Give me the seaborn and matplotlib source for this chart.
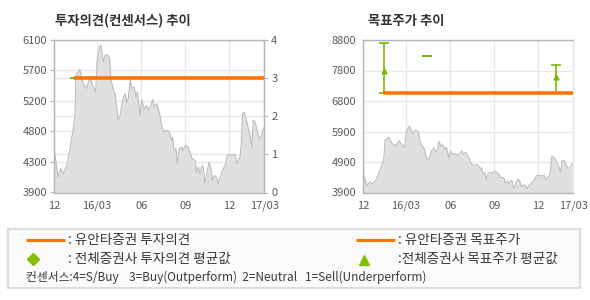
import numpy as np
import pandas as pd
import matplotlib
matplotlib.use("Agg")
import matplotlib.pyplot as plt
import seaborn as sns

# ---------------- data ----------------
start_date = "2015-12-03"
end_offset = 437  # days shown on x axis
# days since start_date, daily close price (KRW)
price_day = [0, 8, 13, 19, 26, 33, 38, 43, 45, 53, 60, 67, 74, 81, 86, 89, 94, 97,
             102, 106, 112, 115, 118, 123, 126, 128, 131, 133, 137, 142, 147, 151,
             154, 158, 161, 166, 170, 173, 178, 182, 187, 192, 196, 201, 205, 208,
             213, 219, 224, 228, 234, 239, 244, 246, 249, 253, 256, 260, 265, 268,
             273, 279, 282, 287, 293, 296, 300, 303, 307, 310, 313, 317, 322, 326,
             329, 333, 338, 341, 345, 350, 355, 360, 366, 371, 376, 380, 383, 387,
             389, 392, 395, 399, 404, 407, 411, 414, 418, 421, 425, 428, 432, 435, 437]
price = [4508, 4121, 4250, 4175, 4290, 4555, 4754, 5014, 5593, 5675, 5473, 5400,
         5568, 5424, 5351, 5786, 6003, 6027, 5786, 5882, 5882, 5834, 5520, 5376,
         5328, 5231, 5039, 4942, 5014, 5231, 5328, 5207, 5256, 5545, 5400, 5424,
         5280, 5351, 5014, 5231, 5111, 5159, 5087, 5159, 5241, 5134, 5183, 5039,
         4845, 4773, 4797, 4773, 4652, 4700, 4508, 4532, 4315, 4532, 4555, 4508,
         4580, 4555, 4483, 4387, 4363, 4194, 4266, 4170, 4290, 4266, 4026, 4170,
         4338, 4243, 4074, 4146, 4121, 4026, 4121, 4218, 4290, 4435, 4450, 4435,
         4450, 4315, 4363, 4435, 4605, 5039, 5062, 4966, 4822, 4725, 4555, 4942,
         4917, 4822, 4700, 4677, 4749, 4822, 4830]

# investment opinion (1-4 scale)
opinion_yuanta_start = 41
opinion_yuanta = 3
opinion_consensus_start = 34
opinion_consensus = 3

# target price
target_yuanta_start = 40
target_yuanta = 7100
cons_day = [44, 133, 400]
cons_avg = [7800, 8300, 7600]
cons_low = [7100, 8300, 7100]
cons_high = [8700, 8300, 8000]

left_ticklabels = ["3900", "4300", "4800", "5200", "5700", "6100"]
right_ticklabels = ["3900", "4900", "5900", "6800", "7800", "8800"]
opinion_ticks = [0, 1, 2, 3, 4]
xtick_dates = ["2016-03-01", "2016-06-01", "2016-09-01", "2016-12-01"]
xtick_labels = ["12", "16/03", "06", "09", "12", "17/03"]

title_left = "투자의견(컨센서스) 추이"
title_right = "목표주가 추이"
leg_texts = [": 유안타증권 투자의견", ": 전체증권사 투자의견 평균값",
             ": 유안타증권 목표주가", ":전체증권사 목표주가 평균값",
             "컨센서스:4=S/Buy    3=Buy(Outperform)  2=Neutral   1=Sell(Underperform)"]

# ---------------- style ----------------
sns.set_theme(style="white")
plt.rcParams["font.family"] = ["Noto Sans CJK KR", "DejaVu Sans"]

ORANGE = "#ff7400"
GREEN = "#78b800"
FILL = "#e0e0e0"
LINE = "#bdbdbd"
SPINE = "#b4b4b4"
GRID = "#e8e8e8"
TXT = "#5a5a5a"

t0 = pd.Timestamp(start_date)
df = pd.DataFrame({"date": t0 + pd.to_timedelta(price_day, unit="D"), "price": price})
x_end = t0 + pd.Timedelta(days=end_offset)
xticks = [t0] + [pd.Timestamp(d) for d in xtick_dates] + [x_end]

fig = plt.figure(figsize=(5.9, 3.0), dpi=100)
fig.patch.set_facecolor("white")

W = 210 / 590
H = 152.5 / 300
axL = fig.add_axes([54.3 / 590, 1 - 192.5 / 300, W, H])
axR = fig.add_axes([363.3 / 590, 1 - 192.5 / 300, W, H])


def style_price_axis(ax, ylim, labels, hgrid):
    ax.fill_between(df["date"], df["price"], ylim[0], color=FILL, lw=0, zorder=1)
    sns.lineplot(data=df, x="date", y="price", ax=ax, color=LINE, lw=0.8, zorder=2)
    ax.set_xlim(t0, x_end)
    ax.set_ylim(*ylim)
    ax.set_yticks(np.linspace(ylim[0], ylim[1], 6))
    ax.set_yticklabels(labels)
    ax.set_xticks(xticks)
    ax.set_xticklabels(xtick_labels)
    ax.set_xlabel("")
    ax.set_ylabel("")
    ax.tick_params(axis="both", labelsize=8, colors=TXT, length=3, width=0.8,
                   color=SPINE, pad=2)
    ax.tick_params(axis="x", pad=3)
    for s in ax.spines.values():
        s.set_color(SPINE)
        s.set_linewidth(1)
    ax.xaxis.grid(True, color=GRID, lw=1, zorder=0)
    ax.yaxis.grid(hgrid, color=GRID, lw=1, zorder=0)
    ax.set_axisbelow(True)


style_price_axis(axL, (3900, 6100), left_ticklabels, False)
style_price_axis(axR, (3900, 8800), right_ticklabels, True)
axR.spines["right"].set_color(GRID)

# left twin axis for opinion
axO = axL.twinx()
axO.set_ylim(0, 4)
axO.set_yticks(opinion_ticks)
axO.set_yticklabels([str(v) for v in opinion_ticks])
axO.tick_params(axis="y", labelsize=8, colors=TXT, length=3, width=0.8, color=SPINE, pad=2)
for s in axO.spines.values():
    s.set_visible(False)
axO.yaxis.grid(False)
for v in opinion_ticks[1:-1]:
    axL.axhline(3900 + v / 4 * 2200, color=GRID, lw=1, zorder=0)
axO.plot([t0 + pd.Timedelta(days=opinion_consensus_start), x_end],
         [opinion_consensus] * 2, color=GREEN, lw=1.5, zorder=3)
axO.plot([t0 + pd.Timedelta(days=opinion_yuanta_start), x_end],
         [opinion_yuanta] * 2, color=ORANGE, lw=2.6, zorder=4, solid_capstyle="butt")

# target price chart
cd = t0 + pd.to_timedelta(cons_day, unit="D")
avg = np.array(cons_avg)
lo = np.array(cons_low)
hi = np.array(cons_high)
axR.errorbar(cd, avg, yerr=[avg - lo, hi - avg], fmt="none", ecolor=GREEN,
             elinewidth=1.2, capsize=3.3, capthick=1.2, zorder=3)
has_range = hi > lo
axR.plot(cd[has_range], avg[has_range], ls="none", marker="^", ms=3.5,
         color=GREEN, zorder=3)
axR.plot([t0 + pd.Timedelta(days=target_yuanta_start), x_end], [target_yuanta] * 2,
         color=ORANGE, lw=2.6, zorder=4, solid_capstyle="butt")

# titles
fig.text(55 / 590, 1 - 20.5 / 300, title_left, fontsize=9.6, fontweight="bold",
         color="#333333", va="center", ha="left")
fig.text(367.5 / 590, 1 - 20.5 / 300, title_right, fontsize=9.6, fontweight="bold",
         color="#333333", va="center", ha="left")

# legend box (pixel coordinates)
lg = fig.add_axes([0, 0, 1, 1], zorder=-1)
lg.set_xlim(0, 590)
lg.set_ylim(300, 0)
lg.axis("off")
lg.add_patch(plt.Rectangle((7.5, 229), 572, 59, facecolor="#fafafa",
                           edgecolor="#dcdcdc", lw=1.5))
lg.plot([26, 65], [240, 240], color=ORANGE, lw=2.2, solid_capstyle="butt")
lg.plot([33], [258.5], marker="D", ms=6.5, color="#80c000", ls="none")
lg.plot([356, 395], [239.5, 239.5], color=ORANGE, lw=2.2, solid_capstyle="butt")
lg.plot([363.5], [259.5], marker="^", ms=7.5, color="#80c000", ls="none")
tk = dict(fontsize=9.8, color="#3a3a3a", va="center", ha="left")
lg.text(68, 240, leg_texts[0], **tk)
lg.text(68, 258.5, leg_texts[1], **tk)
lg.text(398, 240, leg_texts[2], **tk)
lg.text(398, 258.5, leg_texts[3], **tk)
lg.text(26, 277, leg_texts[4], fontsize=8.5, color="#3a3a3a", va="center", ha="left")

fig.savefig("out.png", dpi=100, facecolor="white")
